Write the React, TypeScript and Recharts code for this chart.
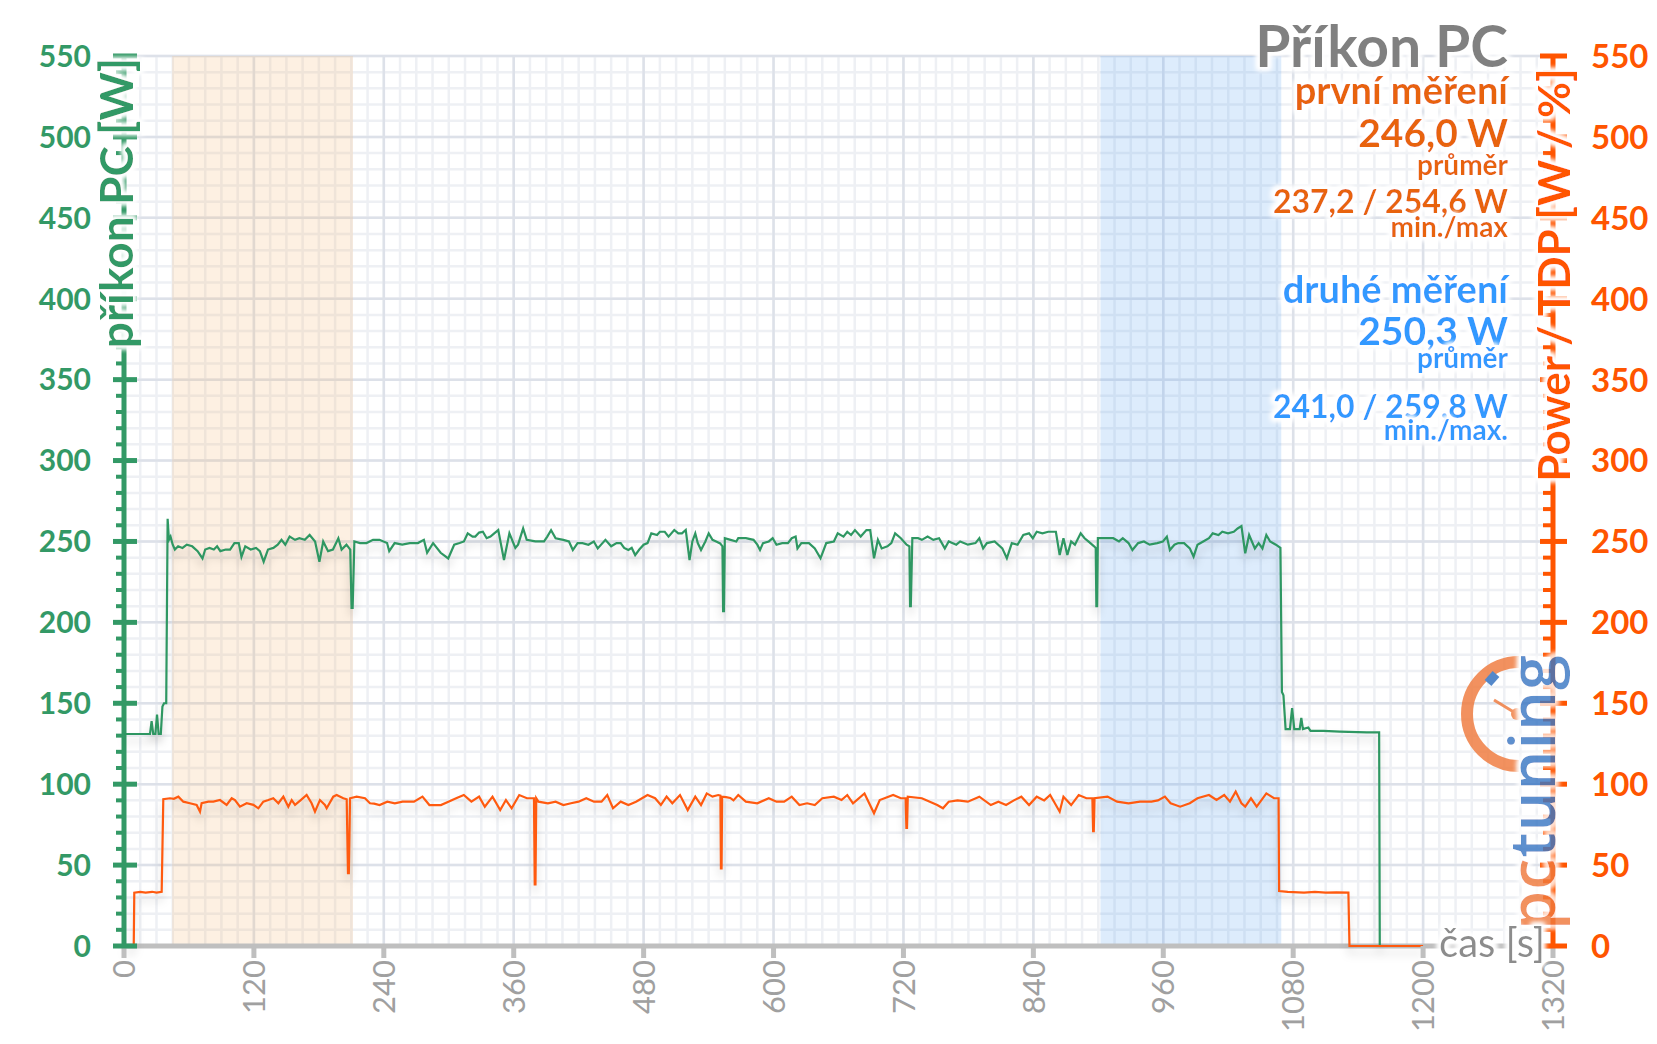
import React from "react";
import { LineChart, Line, XAxis, YAxis, CartesianGrid, ReferenceArea } from "recharts";

// čas [s] osa
const timeTicks = [0, 120, 240, 360, 480, 600, 720, 840, 960, 1080, 1200, 1320];
const wattLabels = [0, 50, 100, 150, 200, 250, 300, 350, 400, 450, 500, 550];
const wattTicks = Array.from({ length: 56 }, (_, i) => i * 10);
const minorTime = Array.from({ length: 89 }, (_, i) => i * 15);

// zvýrazněné úseky (první a druhé měření)
const firstRun = [44.5, 211.5];
const secondRun = [902, 1069];

// příkon PC [W] – [čas, hodnota]
const pcPower: [number, number][] = [
  [0, 131], [24, 131], [25.5, 139], [27, 131], [29, 131], [30.5, 143], [32, 131], [34, 131], [35.5, 148], [37, 150],
  [39, 150], [40.3, 264], [41.5, 251], [43, 253], [45, 248], [47, 245], [50, 247], [54, 246], [58, 248], [63, 247],
  [68, 244], [72.5, 239.5], [75, 245], [79, 246], [83, 245], [86, 247], [89, 244], [94, 245], [98, 245], [102, 249],
  [106, 249], [108.5, 240.5], [112, 247], [117, 245], [122, 246], [125.5, 244], [129, 237.5], [133, 245], [138, 246],
  [142, 248], [145.5, 251], [149, 248], [153, 253], [158, 251], [162, 252], [167, 251], [171.5, 254], [174, 252],
  [176.5, 250], [180.5, 237.5], [184, 250], [188.5, 244], [193, 245], [198, 252], [201, 245], [205.5, 248], [209, 245],
  [210.2, 209], [211.2, 209], [212.8, 250], [218, 249], [224, 249], [230, 251], [236, 251], [243, 249], [245, 244],
  [250, 249], [257, 248], [264, 249], [271.5, 249], [277, 251], [280, 243], [285.5, 249], [292.5, 243], [299.5, 239.5],
  [305, 248], [310, 249], [314, 250], [317.5, 255], [322, 253], [324.5, 253], [328, 255.5], [331.5, 256], [335, 252],
  [338.5, 253], [342, 255], [345.7, 257], [351, 238.5], [356, 255], [361.5, 246], [364, 248], [368.7, 258], [372, 251],
  [380, 250], [388, 250], [391, 253], [394.5, 257], [398.7, 252], [405.8, 251], [411, 250], [414.6, 244.7], [419, 249],
  [423.5, 249], [429, 248], [434, 250], [437.6, 245.7], [444.7, 251], [450, 247], [455, 249], [458.8, 249], [462, 246],
  [465.9, 244.7], [469, 246], [472.2, 241.6], [476, 245], [480, 248], [483.6, 249], [487.1, 255], [492.4, 254],
  [495, 256], [499.5, 256], [503, 253], [508.3, 257.1], [512, 255], [515.4, 255], [518.9, 257.1], [522.4, 238.5],
  [525, 250], [527.7, 255], [530, 249], [533, 244.7], [537, 250], [540.1, 255], [543.6, 251], [547, 250], [550.7, 248.8],
  [552.8, 247], [553.4, 207], [554.2, 207], [555, 252], [560.3, 251], [565.6, 250], [567.4, 252], [574.4, 252],
  [581.5, 251], [585, 248], [587.5, 244.7], [590.3, 249], [595.6, 250], [599.2, 252], [602.7, 248], [608, 249],
  [613.3, 249], [616.8, 252], [620.4, 253], [622.1, 245.7], [625.7, 249], [632.7, 249], [638.1, 245.7], [643.4, 239.6],
  [648.7, 249], [655.7, 250], [659.3, 255], [664.6, 253], [668.1, 256], [671.6, 254], [675.2, 257], [680.5, 253],
  [685.8, 257], [689.3, 257], [692.8, 239.6], [696.4, 251], [699.9, 245.7], [705.2, 247], [708.8, 249], [712.3, 255],
  [717.6, 252], [722.9, 248], [725.5, 247], [726.1, 210], [726.8, 210], [728.2, 252], [733.5, 252], [737, 251],
  [742.3, 253], [747.6, 251], [752.9, 252], [758.2, 245.7], [761.8, 250], [768.8, 248], [772.4, 250], [779.5, 248],
  [786.5, 249], [790.1, 252], [793.6, 245.7], [797.1, 249], [804.2, 250], [811.3, 245.7], [815.5, 239.6], [820.1, 249],
  [825.4, 248], [830.7, 254], [836, 255], [839.5, 252], [843.1, 256], [848.4, 255], [853.7, 256], [860.8, 256],
  [864.3, 241.6], [867.8, 252], [871.4, 241.6], [874.9, 250], [878.4, 248], [883.7, 255], [887.3, 252], [890.8, 250],
  [896.1, 247], [897.6, 246], [898.2, 210], [898.9, 210], [899.6, 252], [906.7, 252], [913.8, 252], [919.1, 250],
  [922.6, 252], [927.9, 249], [931.5, 244.7], [936.8, 249], [942.1, 250], [947.4, 248], [954.4, 249], [959.7, 250],
  [963.3, 253], [966.1, 244.7], [970.3, 248], [973.9, 249], [979.2, 249], [984.5, 245.7], [988, 240.6], [991.6, 248],
  [996.9, 250], [1002.2, 252], [1005.7, 255], [1011, 254], [1014.5, 256], [1019.8, 255], [1025.1, 256], [1028.7, 258],
  [1032.2, 259.5], [1035.7, 242.7], [1039.3, 254], [1044.6, 245.7], [1048.1, 249], [1051.6, 245.7], [1055.2, 254],
  [1058.7, 250], [1064, 248], [1068.2, 246], [1069.6, 157], [1071, 155], [1073, 134], [1077, 134], [1079, 147],
  [1081, 134], [1086, 134], [1087.5, 141], [1089, 134], [1094, 135], [1096, 133], [1108, 133], [1123, 132.5],
  [1148, 132], [1159.4, 132], [1160, 0],
];

// Power / TDP [W / %] – [čas, hodnota]
const cpuPower: [number, number][] = [
  [0, 0], [9, 0], [9.5, 33], [15, 33.5], [20, 33], [26, 33.5], [30, 33], [34.8, 33.5], [36.3, 90.7], [42.5, 91.3],
  [46, 91], [50.2, 92.3], [54.8, 89.2], [60.9, 88.2], [67.1, 87.2], [70.2, 83], [71.7, 88.2], [77.9, 89.2], [82.5, 89.2],
  [88.7, 90.2], [94.8, 87.2], [99.5, 91.3], [102.5, 90.2], [107.1, 86.1], [113.3, 88.2], [119.5, 87.2], [124.1, 85.1],
  [128.7, 89.2], [133.3, 90.2], [137.9, 91.3], [142.6, 88.2], [147.2, 92.3], [151.8, 86.1], [154.9, 90.2], [158, 87.2],
  [163, 90], [168.7, 93.3], [173.3, 88.2], [176.4, 83], [181, 90.2], [185.6, 87.2], [187.2, 85.1], [193.3, 92.3],
  [196.4, 93.3], [202.6, 91.3], [205.7, 90.7], [206.9, 45], [207.7, 45], [208.8, 91.3], [214.9, 92.3], [222.6, 91.3],
  [227.2, 88.2], [231, 88], [236.1, 87.1], [243.2, 89.2], [250.2, 88.2], [257.3, 89.2], [267.9, 89.2], [275.7, 92.3],
  [282.1, 87.1], [292.7, 87.1], [299.7, 89.2], [306.8, 91.3], [313.9, 93.3], [320.9, 89.2], [328, 92.3], [333.3, 86.1],
  [340.4, 92.3], [347.5, 84], [352.8, 90.2], [358.1, 85.1], [365.1, 93.3], [372.2, 91.3], [378.7, 91.3], [379.4, 38],
  [380.1, 38], [380.8, 91.3], [382.8, 89.2], [391.6, 88.2], [398.7, 89.2], [405.8, 87.1], [412.9, 88.2], [419.9, 89.2],
  [427, 91.3], [434.1, 89.2], [441.1, 89.2], [446.4, 93.3], [451.7, 85.1], [458.8, 89.2], [465.9, 87.1], [473, 89.2],
  [483.6, 93.3], [490.6, 91.3], [495.9, 87.1], [501.2, 92.3], [506.5, 88.2], [513.6, 93.3], [520.7, 84], [527.7, 92.3],
  [533, 87.1], [538.3, 94.3], [543.6, 92.3], [548.9, 93.3], [550.9, 93], [551.4, 48], [552, 48], [552.5, 92.3],
  [556, 92], [560, 91.5], [563, 90], [567.4, 93.3], [574.4, 89.2], [585, 88.2], [595.6, 91.3], [602.7, 89.2],
  [609.8, 89.2], [616.8, 92.3], [623.9, 87.1], [631, 88.2], [638.1, 87.1], [645.1, 91.3], [655.7, 92.3], [662.8, 90.2],
  [668.1, 93.3], [673.4, 88.2], [684, 94.3], [692.8, 82], [698.1, 90.2], [710.5, 93.3], [717.6, 91.3], [722, 91.3],
  [722.7, 73], [723.3, 73], [724, 92.3], [737, 91.3], [751.2, 87.1], [756.5, 85.1], [761.8, 89.2], [770, 90],
  [779.5, 89.2], [790.1, 92.3], [800.7, 87.1], [807.7, 89.2], [814.8, 87.1], [822, 90], [828.9, 92.3], [836, 87.1],
  [843.1, 92.3], [850, 90], [855.5, 93.3], [864.3, 83], [867.8, 92.3], [874.9, 87.1], [881.9, 93.3], [889, 91.3],
  [894.5, 91.3], [895.2, 71], [895.8, 71], [896.5, 91.3], [908.5, 92.3], [917.3, 89.2], [927.9, 88.2], [938.5, 89.2],
  [949.1, 89.2], [955, 90], [961.5, 92.3], [966.8, 88.2], [975.6, 86.1], [984.5, 88.2], [991.6, 91.3], [1002.2, 93.3],
  [1009.2, 90.2], [1016.3, 93.3], [1021.6, 89.2], [1026.9, 95.4], [1032.2, 88.2], [1035.7, 86.1], [1041, 91.3],
  [1046.3, 86.1], [1055.2, 94.3], [1062.3, 91.3], [1066.5, 91.3], [1067, 34], [1075, 33.5], [1090, 33], [1100, 33.5],
  [1110, 33], [1120, 33.2], [1131, 33], [1132, 0], [1200, 0],
];

const GREEN = "#339966";
const ORANGE = "#ff5500";
const FONT = "Lato, 'Open Sans', sans-serif";

const pcData = pcPower.map(([t, v]) => ({ t, v }));
const cpuData = cpuPower.map(([t, v]) => ({ t, v }));

function LeftTick({ x, y, payload }: any) {
  const v = payload.value;
  const major = v % 50 === 0;
  return (
    <g>
      <line x1={major ? x - 11 : x - 8} x2={major ? x + 13 : x} y1={y} y2={y} stroke={GREEN} strokeWidth={major ? 5 : 4} />
      {major && (
        <text x={x - 33} y={y} dy="0.36em" textAnchor="end" fill={GREEN} fontSize={30} fontWeight={700} fontFamily={FONT}>
          {v}
        </text>
      )}
    </g>
  );
}

function RightTick({ x, y, payload }: any) {
  const v = payload.value;
  const major = v % 50 === 0;
  return (
    <g>
      <line x1={major ? x - 13 : x - 10} x2={major ? x + 14 : x} y1={y} y2={y} stroke={ORANGE} strokeWidth={major ? 5 : 4} />
      {major && (
        <text x={x + 38} y={y} dy="0.36em" textAnchor="start" fill={ORANGE} fontSize={33} fontWeight={700} fontFamily={FONT}>
          {v}
        </text>
      )}
    </g>
  );
}

function TimeTick({ x, y, payload }: any) {
  return (
    <g>
      <line x1={x} x2={x} y1={y} y2={y + 12} stroke="#bfbfbf" strokeWidth={5} />
      <text
        transform={`translate(${x},${y + 14}) rotate(-90)`}
        textAnchor="end"
        dy="0.36em"
        fill="#a0a0a0"
        fontSize={31}
        fontFamily={FONT}
      >
        {payload.value}
      </text>
    </g>
  );
}

function Overlay() {
  const t = (y: number, size: number, fill: string, txt: string) => (
    <text x={1508} y={y} textAnchor="end" fontSize={size} fontWeight={700} fill={fill} fontFamily={FONT} filter="url(#glow)">
      {txt}
    </text>
  );
  const o = "#e8640a";
  const b = "#3399ff";
  return (
    <svg width={1657} height={1044} style={{ position: "absolute", left: 0, top: 0, pointerEvents: "none" }}>
      <defs>
        <filter id="glow" x="-10%" y="-40%" width="120%" height="180%">
          <feMorphology in="SourceAlpha" operator="dilate" radius={3} result="d" />
          <feGaussianBlur in="d" stdDeviation={2.5} result="b" />
          <feFlood floodColor="#ffffff" />
          <feComposite in2="b" operator="in" result="g" />
          <feMerge>
            <feMergeNode in="g" />
            <feMergeNode in="g" />
            <feMergeNode in="SourceGraphic" />
          </feMerge>
        </filter>
      </defs>
      {/* logo */}
      <g opacity={0.82}>
        <path d="M 1519 662 A 52 52 0 0 0 1519 766" fill="none" stroke="#f07a3c" strokeWidth={12} />
        <line x1={1488} y1={683} x2={1496} y2={674} stroke="#2f6fbf" strokeWidth={9} />
        <line x1={1517} y1={714} x2={1494} y2={700} stroke="#f07a3c" strokeWidth={3} />
        <circle cx={1517} cy={714} r={6} fill="#f07a3c" />
        <text transform="translate(1555,930) rotate(-90)" fontSize={63} fontWeight={600} fontFamily="'Open Sans', sans-serif" letterSpacing={1} filter="url(#glow)">
          <tspan fill="#f07a3c">pc</tspan>
          <tspan fill="#3a78c4">tuning</tspan>
        </text>
      </g>
      {t(67, 57, "#808080", "Příkon PC")}
      {t(104, 38, o, "první měření")}
      {t(147, 39, o, "246,0 W")}
      {t(175, 28, o, "průměr")}
      {t(213, 32, o, "237,2 / 254,6 W")}
      {t(237, 28, o, "min./max")}
      {t(303, 38, b, "druhé měření")}
      {t(345, 39, b, "250,3 W")}
      {t(368, 28, b, "průměr")}
      {t(418, 32, b, "241,0 / 259,8 W")}
      {t(440, 28, b, "min./max.")}
      <text transform="translate(133,203) rotate(-90)" textAnchor="middle" fontSize={46} fontWeight={700} fill={GREEN} fontFamily={FONT} filter="url(#glow)">
        příkon PC [W]
      </text>
      <text transform="translate(1570,275) rotate(-90)" textAnchor="middle" fontSize={44} fontWeight={700} fill={ORANGE} fontFamily={FONT} filter="url(#glow)">
        Power / TDP [W / %]
      </text>
      <text x={1545} y={957} textAnchor="end" fontSize={40} fill="#8c8c8c" fontFamily={FONT} filter="url(#glow)">
        čas [s]
      </text>
    </svg>
  );
}

export default function App() {
  return (
    <div style={{ position: "relative", width: 1657, height: 1044, background: "#fff" }}>
      <style>{`body{margin:0} .recharts-line-curve{filter:drop-shadow(0px 7px 4px rgba(0,0,0,0.18));}`}</style>
      <LineChart width={1657} height={1044} margin={{ top: 56, right: 4, left: 24, bottom: 8 }}>
        <CartesianGrid yAxisId="left" stroke="#eef0f4" strokeWidth={2.5} horizontalValues={wattTicks} verticalValues={minorTime} />
        <CartesianGrid yAxisId="left" stroke="#dde1e9" strokeWidth={2.5} horizontalValues={wattLabels} verticalValues={timeTicks} />
        <ReferenceArea yAxisId="left" x1={firstRun[0]} x2={firstRun[1]} y1={0} y2={550} fill="rgb(247,178,110)" fillOpacity={0.2} stroke="none" />
        <ReferenceArea yAxisId="left" x1={secondRun[0]} x2={secondRun[1]} y1={0} y2={550} fill="rgb(100,170,240)" fillOpacity={0.22} stroke="none" />
        <XAxis
          type="number"
          dataKey="t"
          domain={[0, 1320]}
          ticks={timeTicks}
          interval={0}
          height={90}
          tickSize={0}
          tickMargin={0}
          tickLine={false}
          axisLine={{ stroke: "#bfbfbf", strokeWidth: 5 }}
          tick={<TimeTick />}
        />
        <YAxis
          yAxisId="left"
          domain={[0, 550]}
          ticks={wattTicks}
          interval={0}
          width={100}
          tickSize={0}
          tickMargin={0}
          tickLine={false}
          axisLine={{ stroke: GREEN, strokeWidth: 5 }}
          tick={<LeftTick />}
        />
        <YAxis
          yAxisId="right"
          orientation="right"
          domain={[0, 550]}
          ticks={wattTicks}
          interval={0}
          width={100}
          tickSize={0}
          tickMargin={0}
          tickLine={false}
          axisLine={{ stroke: ORANGE, strokeWidth: 5 }}
          tick={<RightTick />}
        />
        <Line yAxisId="left" data={pcData} dataKey="v" type="linear" stroke="#2e9762" strokeWidth={2.2} dot={false} isAnimationActive={false} zIndex={600} />
        <Line yAxisId="right" data={cpuData} dataKey="v" type="linear" stroke="#ff5a0f" strokeWidth={2.2} dot={false} isAnimationActive={false} zIndex={600} />
      </LineChart>
      <Overlay />
    </div>
  );
}
